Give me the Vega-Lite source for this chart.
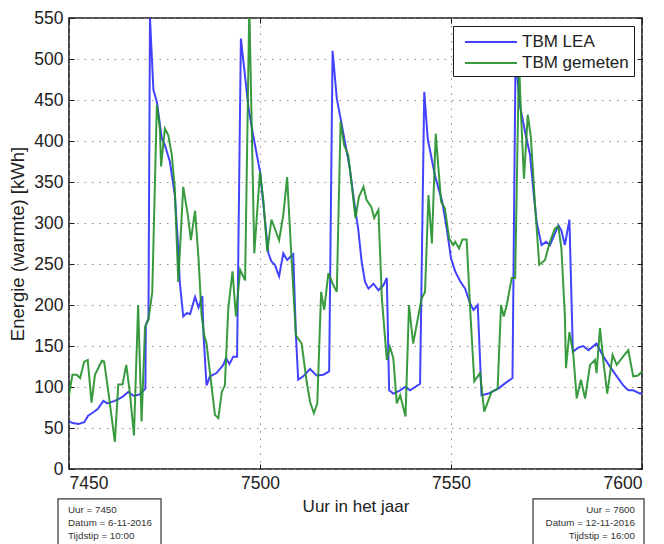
{
  "$schema": "https://vega.github.io/schema/vega-lite/v6.json",
  "width": 573,
  "height": 451,
  "autosize": {"type": "none"},
  "padding": {"left": 69, "top": 18, "right": 22, "bottom": 75},
  "background": "white",
  "config": {
    "font": "Liberation Sans",
    "view": {"stroke": "#1a1a1a", "strokeWidth": 1.6},
    "axis": {
      "domain": false,
      "grid": true,
      "gridColor": "#8c8c8c",
      "gridDash": [1.5, 6],
      "gridWidth": 1,
      "ticks": true,
      "tickColor": "#1a1a1a",
      "tickSize": -5,
      "labelFont": "Liberation Sans",
      "labelFontSize": 17.5,
      "labelColor": "#222222",
      "titleFont": "Liberation Sans",
      "titleFontSize": 17,
      "titleFontWeight": "normal",
      "titleColor": "#222222"
    },
    "legend": {
      "orient": "top-right",
      "offset": 8,
      "fillColor": "white",
      "strokeColor": "#1a1a1a",
      "padding": 5,
      "rowPadding": 2,
      "symbolType": "M-2.6,0H2.6",
      "symbolSize": 400,
      "symbolOffset": 22,
      "symbolStrokeWidth": 2,
      "labelFont": "Liberation Sans",
      "labelFontSize": 17,
      "labelColor": "#222222",
      "labelOffset": 20,
      "labelLimit": 300
    }
  },
  "resolve": {"axis": {"x": "independent", "y": "independent"}},
  "datasets": {
    "tbm": [
      {"serie": "TBM LEA", "uur": 7450, "kwh": 58},
      {"serie": "TBM LEA", "uur": 7451, "kwh": 56},
      {"serie": "TBM LEA", "uur": 7452.5, "kwh": 55},
      {"serie": "TBM LEA", "uur": 7454, "kwh": 57},
      {"serie": "TBM LEA", "uur": 7455, "kwh": 65},
      {"serie": "TBM LEA", "uur": 7456, "kwh": 68},
      {"serie": "TBM LEA", "uur": 7457.5, "kwh": 73},
      {"serie": "TBM LEA", "uur": 7459, "kwh": 83},
      {"serie": "TBM LEA", "uur": 7460, "kwh": 80},
      {"serie": "TBM LEA", "uur": 7462, "kwh": 83},
      {"serie": "TBM LEA", "uur": 7464, "kwh": 88},
      {"serie": "TBM LEA", "uur": 7465.5, "kwh": 94},
      {"serie": "TBM LEA", "uur": 7467, "kwh": 89},
      {"serie": "TBM LEA", "uur": 7468.5, "kwh": 91},
      {"serie": "TBM LEA", "uur": 7470, "kwh": 98},
      {"serie": "TBM LEA", "uur": 7470.1, "kwh": 176},
      {"serie": "TBM LEA", "uur": 7470.8, "kwh": 183},
      {"serie": "TBM LEA", "uur": 7471.2, "kwh": 550},
      {"serie": "TBM LEA", "uur": 7472.1, "kwh": 462},
      {"serie": "TBM LEA", "uur": 7473, "kwh": 448},
      {"serie": "TBM LEA", "uur": 7474.3, "kwh": 403},
      {"serie": "TBM LEA", "uur": 7475.1, "kwh": 395},
      {"serie": "TBM LEA", "uur": 7476.4, "kwh": 375},
      {"serie": "TBM LEA", "uur": 7477.7, "kwh": 334},
      {"serie": "TBM LEA", "uur": 7478.6, "kwh": 269},
      {"serie": "TBM LEA", "uur": 7479, "kwh": 228},
      {"serie": "TBM LEA", "uur": 7479.9, "kwh": 186},
      {"serie": "TBM LEA", "uur": 7480.8, "kwh": 190},
      {"serie": "TBM LEA", "uur": 7481.7, "kwh": 189},
      {"serie": "TBM LEA", "uur": 7483, "kwh": 210},
      {"serie": "TBM LEA", "uur": 7483.9, "kwh": 197},
      {"serie": "TBM LEA", "uur": 7484.9, "kwh": 211},
      {"serie": "TBM LEA", "uur": 7485.2, "kwh": 165},
      {"serie": "TBM LEA", "uur": 7486, "kwh": 102},
      {"serie": "TBM LEA", "uur": 7486.9, "kwh": 113},
      {"serie": "TBM LEA", "uur": 7488.6, "kwh": 117},
      {"serie": "TBM LEA", "uur": 7490.4, "kwh": 127},
      {"serie": "TBM LEA", "uur": 7491.1, "kwh": 135},
      {"serie": "TBM LEA", "uur": 7492, "kwh": 128},
      {"serie": "TBM LEA", "uur": 7493, "kwh": 137},
      {"serie": "TBM LEA", "uur": 7494, "kwh": 137},
      {"serie": "TBM LEA", "uur": 7495, "kwh": 525},
      {"serie": "TBM LEA", "uur": 7497, "kwh": 440},
      {"serie": "TBM LEA", "uur": 7498.2, "kwh": 407},
      {"serie": "TBM LEA", "uur": 7500, "kwh": 363},
      {"serie": "TBM LEA", "uur": 7500.9, "kwh": 322},
      {"serie": "TBM LEA", "uur": 7501.6, "kwh": 289},
      {"serie": "TBM LEA", "uur": 7502.2, "kwh": 263},
      {"serie": "TBM LEA", "uur": 7503, "kwh": 253},
      {"serie": "TBM LEA", "uur": 7503.9, "kwh": 249},
      {"serie": "TBM LEA", "uur": 7505, "kwh": 235},
      {"serie": "TBM LEA", "uur": 7506.1, "kwh": 263},
      {"serie": "TBM LEA", "uur": 7507.1, "kwh": 255},
      {"serie": "TBM LEA", "uur": 7508.7, "kwh": 262},
      {"serie": "TBM LEA", "uur": 7509.4, "kwh": 163},
      {"serie": "TBM LEA", "uur": 7510, "kwh": 109},
      {"serie": "TBM LEA", "uur": 7511.3, "kwh": 113},
      {"serie": "TBM LEA", "uur": 7513.1, "kwh": 122},
      {"serie": "TBM LEA", "uur": 7514.8, "kwh": 114},
      {"serie": "TBM LEA", "uur": 7516.6, "kwh": 115},
      {"serie": "TBM LEA", "uur": 7518.1, "kwh": 119},
      {"serie": "TBM LEA", "uur": 7519, "kwh": 510},
      {"serie": "TBM LEA", "uur": 7520.1, "kwh": 452},
      {"serie": "TBM LEA", "uur": 7521.4, "kwh": 420},
      {"serie": "TBM LEA", "uur": 7523.5, "kwh": 367},
      {"serie": "TBM LEA", "uur": 7525, "kwh": 314},
      {"serie": "TBM LEA", "uur": 7525.7, "kwh": 293},
      {"serie": "TBM LEA", "uur": 7526.6, "kwh": 253},
      {"serie": "TBM LEA", "uur": 7527.5, "kwh": 228},
      {"serie": "TBM LEA", "uur": 7528.4, "kwh": 220},
      {"serie": "TBM LEA", "uur": 7529.7, "kwh": 226},
      {"serie": "TBM LEA", "uur": 7531, "kwh": 218},
      {"serie": "TBM LEA", "uur": 7532.3, "kwh": 224},
      {"serie": "TBM LEA", "uur": 7533.2, "kwh": 233},
      {"serie": "TBM LEA", "uur": 7533.8, "kwh": 96},
      {"serie": "TBM LEA", "uur": 7534.9, "kwh": 92},
      {"serie": "TBM LEA", "uur": 7536.7, "kwh": 96},
      {"serie": "TBM LEA", "uur": 7538, "kwh": 100},
      {"serie": "TBM LEA", "uur": 7539.3, "kwh": 96},
      {"serie": "TBM LEA", "uur": 7541.9, "kwh": 104},
      {"serie": "TBM LEA", "uur": 7543, "kwh": 460},
      {"serie": "TBM LEA", "uur": 7543.9, "kwh": 403},
      {"serie": "TBM LEA", "uur": 7545.8, "kwh": 358},
      {"serie": "TBM LEA", "uur": 7547.7, "kwh": 326},
      {"serie": "TBM LEA", "uur": 7548.9, "kwh": 293},
      {"serie": "TBM LEA", "uur": 7550, "kwh": 257},
      {"serie": "TBM LEA", "uur": 7551.1, "kwh": 241},
      {"serie": "TBM LEA", "uur": 7552.4, "kwh": 229},
      {"serie": "TBM LEA", "uur": 7553.7, "kwh": 220},
      {"serie": "TBM LEA", "uur": 7555, "kwh": 202},
      {"serie": "TBM LEA", "uur": 7555.9, "kwh": 194},
      {"serie": "TBM LEA", "uur": 7557, "kwh": 200},
      {"serie": "TBM LEA", "uur": 7558, "kwh": 90},
      {"serie": "TBM LEA", "uur": 7559.8, "kwh": 92},
      {"serie": "TBM LEA", "uur": 7562.4, "kwh": 98},
      {"serie": "TBM LEA", "uur": 7564.3, "kwh": 105},
      {"serie": "TBM LEA", "uur": 7566.1, "kwh": 111},
      {"serie": "TBM LEA", "uur": 7566.9, "kwh": 505},
      {"serie": "TBM LEA", "uur": 7568, "kwh": 444},
      {"serie": "TBM LEA", "uur": 7569.4, "kwh": 411},
      {"serie": "TBM LEA", "uur": 7570.7, "kwh": 383},
      {"serie": "TBM LEA", "uur": 7571.6, "kwh": 338},
      {"serie": "TBM LEA", "uur": 7572.4, "kwh": 302},
      {"serie": "TBM LEA", "uur": 7573.7, "kwh": 273},
      {"serie": "TBM LEA", "uur": 7574.9, "kwh": 277},
      {"serie": "TBM LEA", "uur": 7575.9, "kwh": 273},
      {"serie": "TBM LEA", "uur": 7577.2, "kwh": 287},
      {"serie": "TBM LEA", "uur": 7578.1, "kwh": 297},
      {"serie": "TBM LEA", "uur": 7578.9, "kwh": 291},
      {"serie": "TBM LEA", "uur": 7579.8, "kwh": 273},
      {"serie": "TBM LEA", "uur": 7581, "kwh": 304},
      {"serie": "TBM LEA", "uur": 7581.9, "kwh": 143},
      {"serie": "TBM LEA", "uur": 7583.3, "kwh": 148},
      {"serie": "TBM LEA", "uur": 7584.6, "kwh": 150},
      {"serie": "TBM LEA", "uur": 7586, "kwh": 145},
      {"serie": "TBM LEA", "uur": 7588.1, "kwh": 153},
      {"serie": "TBM LEA", "uur": 7589.9, "kwh": 137},
      {"serie": "TBM LEA", "uur": 7591.6, "kwh": 125},
      {"serie": "TBM LEA", "uur": 7593.4, "kwh": 113},
      {"serie": "TBM LEA", "uur": 7595.1, "kwh": 102},
      {"serie": "TBM LEA", "uur": 7596.4, "kwh": 96},
      {"serie": "TBM LEA", "uur": 7597.7, "kwh": 96},
      {"serie": "TBM LEA", "uur": 7599.5, "kwh": 92},
      {"serie": "TBM LEA", "uur": 7600, "kwh": 93},

      {"serie": "TBM gemeten", "uur": 7450, "kwh": 90},
      {"serie": "TBM gemeten", "uur": 7450.9, "kwh": 115},
      {"serie": "TBM gemeten", "uur": 7452, "kwh": 115},
      {"serie": "TBM gemeten", "uur": 7452.9, "kwh": 111},
      {"serie": "TBM gemeten", "uur": 7454, "kwh": 131},
      {"serie": "TBM gemeten", "uur": 7454.9, "kwh": 133},
      {"serie": "TBM gemeten", "uur": 7455.9, "kwh": 81},
      {"serie": "TBM gemeten", "uur": 7456.8, "kwh": 115},
      {"serie": "TBM gemeten", "uur": 7458.6, "kwh": 132},
      {"serie": "TBM gemeten", "uur": 7459.2, "kwh": 131},
      {"serie": "TBM gemeten", "uur": 7460.3, "kwh": 94},
      {"serie": "TBM gemeten", "uur": 7462, "kwh": 33},
      {"serie": "TBM gemeten", "uur": 7462.9, "kwh": 103},
      {"serie": "TBM gemeten", "uur": 7464, "kwh": 103},
      {"serie": "TBM gemeten", "uur": 7465, "kwh": 127},
      {"serie": "TBM gemeten", "uur": 7466, "kwh": 90},
      {"serie": "TBM gemeten", "uur": 7467, "kwh": 41},
      {"serie": "TBM gemeten", "uur": 7468.1, "kwh": 200},
      {"serie": "TBM gemeten", "uur": 7469, "kwh": 58},
      {"serie": "TBM gemeten", "uur": 7469.9, "kwh": 173},
      {"serie": "TBM gemeten", "uur": 7470.8, "kwh": 182},
      {"serie": "TBM gemeten", "uur": 7471.8, "kwh": 216},
      {"serie": "TBM gemeten", "uur": 7473, "kwh": 444},
      {"serie": "TBM gemeten", "uur": 7473.8, "kwh": 415},
      {"serie": "TBM gemeten", "uur": 7474.1, "kwh": 369},
      {"serie": "TBM gemeten", "uur": 7475.1, "kwh": 415},
      {"serie": "TBM gemeten", "uur": 7476, "kwh": 407},
      {"serie": "TBM gemeten", "uur": 7476.9, "kwh": 383},
      {"serie": "TBM gemeten", "uur": 7477.7, "kwh": 342},
      {"serie": "TBM gemeten", "uur": 7478.6, "kwh": 228},
      {"serie": "TBM gemeten", "uur": 7479.9, "kwh": 344},
      {"serie": "TBM gemeten", "uur": 7481.1, "kwh": 310},
      {"serie": "TBM gemeten", "uur": 7481.9, "kwh": 279},
      {"serie": "TBM gemeten", "uur": 7483, "kwh": 315},
      {"serie": "TBM gemeten", "uur": 7483.9, "kwh": 257},
      {"serie": "TBM gemeten", "uur": 7484.7, "kwh": 188},
      {"serie": "TBM gemeten", "uur": 7485.4, "kwh": 163},
      {"serie": "TBM gemeten", "uur": 7486, "kwh": 153},
      {"serie": "TBM gemeten", "uur": 7487.3, "kwh": 102},
      {"serie": "TBM gemeten", "uur": 7488.2, "kwh": 66},
      {"serie": "TBM gemeten", "uur": 7489.1, "kwh": 62},
      {"serie": "TBM gemeten", "uur": 7490, "kwh": 94},
      {"serie": "TBM gemeten", "uur": 7490.8, "kwh": 102},
      {"serie": "TBM gemeten", "uur": 7491.7, "kwh": 196},
      {"serie": "TBM gemeten", "uur": 7492.8, "kwh": 241},
      {"serie": "TBM gemeten", "uur": 7493.7, "kwh": 186},
      {"serie": "TBM gemeten", "uur": 7494.8, "kwh": 243},
      {"serie": "TBM gemeten", "uur": 7496.1, "kwh": 230},
      {"serie": "TBM gemeten", "uur": 7497.2, "kwh": 565},
      {"serie": "TBM gemeten", "uur": 7498.5, "kwh": 263},
      {"serie": "TBM gemeten", "uur": 7500, "kwh": 363},
      {"serie": "TBM gemeten", "uur": 7500.9, "kwh": 326},
      {"serie": "TBM gemeten", "uur": 7501.9, "kwh": 265},
      {"serie": "TBM gemeten", "uur": 7503, "kwh": 304},
      {"serie": "TBM gemeten", "uur": 7503.9, "kwh": 293},
      {"serie": "TBM gemeten", "uur": 7505, "kwh": 279},
      {"serie": "TBM gemeten", "uur": 7506.1, "kwh": 310},
      {"serie": "TBM gemeten", "uur": 7507.1, "kwh": 356},
      {"serie": "TBM gemeten", "uur": 7508.3, "kwh": 253},
      {"serie": "TBM gemeten", "uur": 7509.4, "kwh": 163},
      {"serie": "TBM gemeten", "uur": 7510.9, "kwh": 153},
      {"serie": "TBM gemeten", "uur": 7512.2, "kwh": 107},
      {"serie": "TBM gemeten", "uur": 7513.1, "kwh": 82},
      {"serie": "TBM gemeten", "uur": 7514.1, "kwh": 68},
      {"serie": "TBM gemeten", "uur": 7515, "kwh": 80},
      {"serie": "TBM gemeten", "uur": 7516, "kwh": 216},
      {"serie": "TBM gemeten", "uur": 7516.8, "kwh": 194},
      {"serie": "TBM gemeten", "uur": 7517.9, "kwh": 239},
      {"serie": "TBM gemeten", "uur": 7519.2, "kwh": 224},
      {"serie": "TBM gemeten", "uur": 7520.1, "kwh": 216},
      {"serie": "TBM gemeten", "uur": 7521.1, "kwh": 424},
      {"serie": "TBM gemeten", "uur": 7522, "kwh": 395},
      {"serie": "TBM gemeten", "uur": 7523.1, "kwh": 383},
      {"serie": "TBM gemeten", "uur": 7525, "kwh": 306},
      {"serie": "TBM gemeten", "uur": 7525.9, "kwh": 332},
      {"serie": "TBM gemeten", "uur": 7527.1, "kwh": 344},
      {"serie": "TBM gemeten", "uur": 7527.9, "kwh": 328},
      {"serie": "TBM gemeten", "uur": 7529.1, "kwh": 320},
      {"serie": "TBM gemeten", "uur": 7529.9, "kwh": 306},
      {"serie": "TBM gemeten", "uur": 7531, "kwh": 316},
      {"serie": "TBM gemeten", "uur": 7531.9, "kwh": 208},
      {"serie": "TBM gemeten", "uur": 7533.2, "kwh": 133},
      {"serie": "TBM gemeten", "uur": 7534, "kwh": 149},
      {"serie": "TBM gemeten", "uur": 7534.9, "kwh": 135},
      {"serie": "TBM gemeten", "uur": 7535.8, "kwh": 80},
      {"serie": "TBM gemeten", "uur": 7536.7, "kwh": 90},
      {"serie": "TBM gemeten", "uur": 7538.1, "kwh": 64},
      {"serie": "TBM gemeten", "uur": 7539, "kwh": 200},
      {"serie": "TBM gemeten", "uur": 7540.1, "kwh": 153},
      {"serie": "TBM gemeten", "uur": 7542.3, "kwh": 208},
      {"serie": "TBM gemeten", "uur": 7543.2, "kwh": 216},
      {"serie": "TBM gemeten", "uur": 7544.1, "kwh": 334},
      {"serie": "TBM gemeten", "uur": 7545, "kwh": 275},
      {"serie": "TBM gemeten", "uur": 7546, "kwh": 409},
      {"serie": "TBM gemeten", "uur": 7547.4, "kwh": 326},
      {"serie": "TBM gemeten", "uur": 7548.4, "kwh": 318},
      {"serie": "TBM gemeten", "uur": 7549.5, "kwh": 281},
      {"serie": "TBM gemeten", "uur": 7550.6, "kwh": 273},
      {"serie": "TBM gemeten", "uur": 7551.1, "kwh": 277},
      {"serie": "TBM gemeten", "uur": 7552.1, "kwh": 269},
      {"serie": "TBM gemeten", "uur": 7553, "kwh": 280},
      {"serie": "TBM gemeten", "uur": 7554.1, "kwh": 280},
      {"serie": "TBM gemeten", "uur": 7555, "kwh": 196},
      {"serie": "TBM gemeten", "uur": 7556.1, "kwh": 107},
      {"serie": "TBM gemeten", "uur": 7557.6, "kwh": 117},
      {"serie": "TBM gemeten", "uur": 7558.7, "kwh": 70},
      {"serie": "TBM gemeten", "uur": 7560.6, "kwh": 94},
      {"serie": "TBM gemeten", "uur": 7562.2, "kwh": 98},
      {"serie": "TBM gemeten", "uur": 7563.1, "kwh": 200},
      {"serie": "TBM gemeten", "uur": 7563.8, "kwh": 186},
      {"serie": "TBM gemeten", "uur": 7564.6, "kwh": 200},
      {"serie": "TBM gemeten", "uur": 7565.9, "kwh": 233},
      {"serie": "TBM gemeten", "uur": 7566.8, "kwh": 233},
      {"serie": "TBM gemeten", "uur": 7567.8, "kwh": 500},
      {"serie": "TBM gemeten", "uur": 7568.3, "kwh": 436},
      {"serie": "TBM gemeten", "uur": 7569.1, "kwh": 354},
      {"serie": "TBM gemeten", "uur": 7570.1, "kwh": 432},
      {"serie": "TBM gemeten", "uur": 7570.9, "kwh": 405},
      {"serie": "TBM gemeten", "uur": 7572, "kwh": 322},
      {"serie": "TBM gemeten", "uur": 7573.1, "kwh": 249},
      {"serie": "TBM gemeten", "uur": 7574.6, "kwh": 255},
      {"serie": "TBM gemeten", "uur": 7575.9, "kwh": 277},
      {"serie": "TBM gemeten", "uur": 7577.2, "kwh": 293},
      {"serie": "TBM gemeten", "uur": 7578.1, "kwh": 296},
      {"serie": "TBM gemeten", "uur": 7578.9, "kwh": 269},
      {"serie": "TBM gemeten", "uur": 7579.8, "kwh": 188},
      {"serie": "TBM gemeten", "uur": 7580.1, "kwh": 123},
      {"serie": "TBM gemeten", "uur": 7581, "kwh": 167},
      {"serie": "TBM gemeten", "uur": 7582, "kwh": 141},
      {"serie": "TBM gemeten", "uur": 7582.9, "kwh": 86},
      {"serie": "TBM gemeten", "uur": 7584, "kwh": 109},
      {"serie": "TBM gemeten", "uur": 7585.1, "kwh": 86},
      {"serie": "TBM gemeten", "uur": 7586.4, "kwh": 127},
      {"serie": "TBM gemeten", "uur": 7587.7, "kwh": 133},
      {"serie": "TBM gemeten", "uur": 7588.1, "kwh": 117},
      {"serie": "TBM gemeten", "uur": 7589, "kwh": 172},
      {"serie": "TBM gemeten", "uur": 7589.9, "kwh": 131},
      {"serie": "TBM gemeten", "uur": 7590.9, "kwh": 92},
      {"serie": "TBM gemeten", "uur": 7592.3, "kwh": 139},
      {"serie": "TBM gemeten", "uur": 7593.4, "kwh": 127},
      {"serie": "TBM gemeten", "uur": 7594.9, "kwh": 136},
      {"serie": "TBM gemeten", "uur": 7596.4, "kwh": 145},
      {"serie": "TBM gemeten", "uur": 7597.7, "kwh": 113},
      {"serie": "TBM gemeten", "uur": 7599, "kwh": 114},
      {"serie": "TBM gemeten", "uur": 7600, "kwh": 119}
    ],
    "tijdstippen": [
      {"uur": 7450, "tekst": ["Uur = 7450", "Datum = 6-11-2016", "Tijdstip = 10:00"]},
      {"uur": 7600, "tekst": ["Uur = 7600", "Datum = 12-11-2016", "Tijdstip = 16:00"]}
    ]
  },
  "layer": [
    {
      "data": {"name": "tbm"},
      "mark": {"type": "line", "strokeWidth": 2, "clip": true, "opacity": 0.9},
      "encoding": {
        "x": {
          "field": "uur", "type": "quantitative",
          "scale": {"domain": [7450, 7600], "nice": false, "zero": false},
          "axis": {"values": [7450, 7500, 7550, 7600], "title": "Uur in het jaar", "labelPadding": 10, "titlePadding": 7, "format": "d"}
        },
        "y": {
          "field": "kwh", "type": "quantitative",
          "scale": {"domain": [0, 550], "nice": false},
          "axis": {"values": [0, 50, 100, 150, 200, 250, 300, 350, 400, 450, 500, 550], "title": "Energie (warmte) [kWh]", "titleFontSize": 18.5, "labelPadding": 11, "titlePadding": 6}
        },
        "color": {
          "field": "serie", "type": "nominal",
          "scale": {"domain": ["TBM LEA", "TBM gemeten"], "range": ["#2f2fff", "#24902a"]},
          "legend": {"title": null}
        },
        "order": {"field": "uur", "type": "quantitative"}
      }
    },
    {
      "data": {"name": "tijdstippen"},
      "transform": [{"filter": "datum.uur == 7450"}],
      "mark": {"type": "rect", "width": 103, "fill": "white", "stroke": "#333333", "strokeWidth": 1.2, "xOffset": 40.5, "clip": false},
      "encoding": {
        "x": {"field": "uur", "type": "quantitative",
          "axis": {"orient": "top", "values": [7450, 7500, 7550, 7600], "labels": false, "grid": false, "title": null}},
        "y": {"datum": -36.5,
          "axis": {"orient": "right", "values": [0, 50, 100, 150, 200, 250, 300, 350, 400, 450, 500, 550], "labels": false, "grid": false, "title": null}},
        "y2": {"datum": -110}
      }
    },
    {
      "data": {"name": "tijdstippen"},
      "transform": [{"filter": "datum.uur == 7600"}],
      "mark": {"type": "rect", "width": 111, "fill": "white", "stroke": "#333333", "strokeWidth": 1.2, "xOffset": -53.5, "clip": false},
      "encoding": {"x": {"field": "uur", "type": "quantitative", "axis": null}, "y": {"datum": -36.5, "axis": null}, "y2": {"datum": -110}}
    },
    {
      "data": {"name": "tijdstippen"},
      "transform": [{"filter": "datum.uur == 7450"}],
      "mark": {"type": "text", "align": "left", "baseline": "middle", "dx": -1, "dy": 41, "lineHeight": 13, "font": "Liberation Sans", "fontSize": 9.8, "color": "#333333"},
      "encoding": {"x": {"field": "uur", "type": "quantitative", "axis": null}, "y": {"datum": 0, "axis": null}, "text": {"field": "tekst"}}
    },
    {
      "data": {"name": "tijdstippen"},
      "transform": [{"filter": "datum.uur == 7600"}],
      "mark": {"type": "text", "align": "right", "baseline": "middle", "dx": -7, "dy": 41, "lineHeight": 13, "font": "Liberation Sans", "fontSize": 9.8, "color": "#333333"},
      "encoding": {"x": {"field": "uur", "type": "quantitative", "axis": null}, "y": {"datum": 0, "axis": null}, "text": {"field": "tekst"}}
    }
  ]
}
